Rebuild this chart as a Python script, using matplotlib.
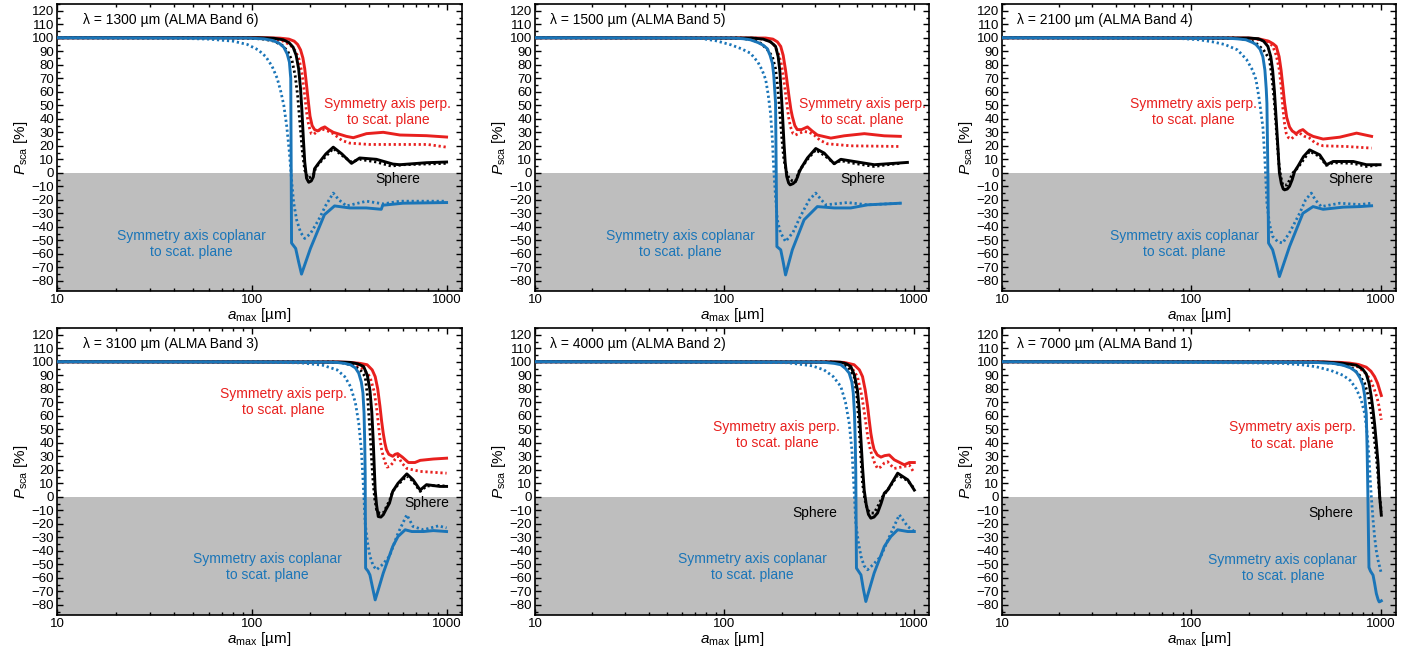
import matplotlib
matplotlib.use('Agg')
import matplotlib.pyplot as plt
from matplotlib.ticker import MultipleLocator, LogLocator, NullFormatter, FixedFormatter, FixedLocator

plt.rcParams['font.family'] = ['Liberation Sans', 'DejaVu Sans']
plt.rcParams['mathtext.fontset'] = 'custom'
plt.rcParams['mathtext.rm'] = 'Liberation Sans'
plt.rcParams['mathtext.it'] = 'Liberation Sans:italic'

RED = '#e8201e'
BLUE = '#1a75b8'
GREY = '#bebebe'

# P_sca [%] versus a_max [um], points as (a_max, P)
# lambda = 1300 um
b6_perp = [(10, 100), (120, 100), (140, 99.7), (155, 99), (165, 97.5), (172, 95), (178, 91), (183, 85),
           (187, 77), (191, 65), (195, 53), (199, 42), (204, 35), (210, 32), (218, 31), (228, 33), (237, 34),
           (248, 32), (262, 30), (306, 27), (332, 26), (388, 29), (473, 30), (576, 28), (789, 27.5),
           (1000, 26.5)]
b6_perp_dot = [(10, 100), (110, 99.8), (130, 99), (145, 97.5), (158, 94.5), (168, 90), (175, 84), (181, 74),
               (186, 60), (191, 45), (196, 35), (202, 29), (208, 28.5), (218, 31), (229, 32.5), (245, 31),
               (262, 29), (290, 24), (318, 22), (400, 21), (600, 21), (800, 21), (1000, 19)]
b6_sph = [(10, 100), (110, 100), (130, 99.6), (145, 98.5), (155, 96.5), (163, 93), (169, 87), (174, 77),
          (178, 62), (181, 45), (184, 25), (187, 8), (191, -4), (196, -7), (202, -6), (207, -3), (210, 3),
          (220, 7), (240, 14), (262, 19), (290, 14), (325, 7), (358, 11), (436, 10), (530, 6.5), (575, 6),
          (789, 7.5), (1000, 8)]
b6_sph_dot = [(10, 100), (95, 99.8), (115, 99), (130, 97.5), (143, 94.5), (153, 90), (161, 83), (167, 72),
              (172, 57), (177, 35), (182, 15), (187, 2), (194, -4), (202, -3), (208, -1), (213, 4), (225, 8),
              (262, 18), (290, 13), (325, 8), (358, 10), (436, 8), (520, 5), (600, 6), (1000, 7)]
b6_copl = [(10, 100), (95, 99.8), (115, 99.2), (128, 98), (138, 96), (146, 93), (152, 88), (156, 82),
           (158.5, 70), (160, -52), (168, -56), (174, -66), (180, -75), (200, -56), (236, -31), (266, -24.5),
           (318, -26), (387, -26), (462, -27), (470, -24), (598, -22.5), (1000, -22)]
b6_copl_dot = [(10, 100), (40, 99.7), (60, 99), (80, 97.5), (95, 95), (108, 91), (118, 86), (127, 79),
               (135, 70), (141, 60), (146, 50), (151, 35), (156, 15), (160, -5), (164, -22), (170, -35),
               (178, -44), (187, -48.6), (200, -45), (220, -35), (240, -24), (262, -15), (280, -20),
               (306, -24.5), (388, -21), (473, -23), (576, -21), (1000, -21)]

# lambda = 1500 um
b5_perp = [(10, 100), (165, 99.8), (180, 99), (190, 97), (198, 93.6), (204, 87), (210, 76), (215, 65),
           (219, 56.5), (224, 47), (228, 41.7), (235, 35), (242, 32), (255, 32), (274, 34), (290, 31),
           (309, 28), (364, 25.7), (428, 27.4), (547, 29), (697, 27.4), (847, 27)]
b5_perp_dot = [(10, 100), (150, 99.7), (170, 98), (182, 95), (192, 89), (200, 80), (206, 68), (213, 51.6),
               (218, 41), (223, 34), (230, 29), (237, 28), (250, 29.5), (263, 30.6), (280, 30), (297, 28),
               (320, 24), (349, 21.5), (464, 20), (847, 19.5)]
b5_sph = [(10, 100), (140, 99.8), (160, 99), (175, 97), (186, 93.6), (192, 86), (196, 75), (199, 60),
          (202, 45), (206, 22), (209, 8), (213, -2.7), (218, -7.5), (222, -8.9), (230, -8), (237, -6.4),
          (243, -3), (247, 0), (255, 4), (274, 11), (303, 18), (336, 14.6), (379, 6.7), (411, 10), (483, 8.4),
          (617, 6), (726, 6.7), (923, 7.7)]
b5_sph_dot = [(10, 100), (120, 99.8), (140, 98.5), (155, 96), (168, 91.5), (179, 86), (186, 77), (190, 66),
              (194, 51.6), (199, 32), (203, 18), (206, 9.6), (212, 1), (219, -4), (228, -6), (237, -6.4),
              (247, 1), (274, 10), (303, 17), (336, 13), (379, 7), (411, 9), (483, 7), (617, 4.7),
              (726, 6), (847, 7)]
b5_copl = [(10, 100), (110, 99.8), (125, 99.3), (137, 98.5), (150, 96.5), (160, 94.5), (168, 92), (174, 87),
           (179, 81), (182, 72), (186, 51.6), (189, -54.6), (198, -57), (204, -66), (210, -75.6), (228, -57),
           (263, -34.8), (309, -25), (379, -26), (464, -26), (569, -23.7), (847, -22.5)]
b5_copl_dot = [(10, 100), (60, 99.8), (75, 99.5), (90, 97.8), (108, 94.8), (122, 92), (137, 88.6), (150, 82),
               (158, 76), (165, 69), (170, 58), (175, 44), (179, 24), (182, 2), (186, -18), (190, -34.8),
               (197, -44), (210, -50.9), (230, -44), (252, -32), (280, -20), (303, -15), (320, -19),
               (342, -23.7), (446, -22), (569, -23.7), (847, -22.5)]

# lambda = 2100 um
b4_perp = [(10, 100), (200, 99.8), (230, 99), (255, 97.5), (270, 95.5), (280, 93.6), (290, 86), (297, 76),
           (304, 63), (310, 51.6), (318, 41), (329, 34), (340, 31), (357, 29), (372, 31), (387, 32),
           (410, 29), (438, 27), (495, 25), (606, 26.4), (743, 29.4), (892, 27)]
b4_perp_dot = [(10, 100), (200, 99.6), (230, 98.5), (250, 97.5), (268, 94), (280, 87), (291, 76), (298, 62),
               (304, 46.7), (310, 36), (316, 29.4), (325, 26), (336, 25), (354, 28), (372, 29.4), (395, 27),
               (420, 25.7), (450, 22), (495, 20), (657, 19.5), (892, 18.3)]
b4_sph = [(10, 100), (200, 99.8), (225, 99.3), (240, 97.5), (253, 93.6), (262, 86), (268, 76), (274, 60),
          (280, 39), (286, 18), (291, 0), (298, -8), (305, -12), (310, -12.6), (320, -12), (329, -10),
          (340, -5), (350, 1), (365, 5), (390, 12), (420, 17), (475, 13.3), (515, 6), (559, 8.4), (714, 8.4),
          (838, 6), (989, 6)]
b4_sph_dot = [(10, 100), (170, 99.8), (200, 98.5), (219, 96), (240, 91), (258, 84), (266, 70), (274, 51.6),
              (281, 30), (289, 7), (296, -3), (303, -9), (320, -9), (343, 0), (365, 4), (420, 16), (475, 12),
              (515, 5.5), (559, 7.5), (714, 7), (838, 4.7), (989, 6)]
b4_copl = [(10, 100), (150, 99.8), (175, 99.2), (194, 98.5), (210, 96.5), (219, 95), (230, 91.5), (238, 86),
           (244, 76), (248, 62), (250, 51.6), (253, 0), (255, -52), (268, -57), (280, -67), (291, -76.8),
           (329, -54.6), (387, -30), (438, -25), (495, -27), (632, -25.4), (774, -25), (892, -24.4)]
b4_copl_dot = [(10, 100), (86, 99.5), (110, 98.5), (129, 97), (150, 95), (175, 91), (195, 84), (210, 76),
               (219, 69), (228, 54), (238, 34), (244, 10), (250, -22.5), (258, -38), (268, -47), (285, -51),
               (303, -52), (330, -44), (372, -30), (400, -20), (429, -15), (450, -20), (484, -25),
               (606, -22.5), (774, -23.5), (892, -22.5)]

# lambda = 3100 um
b3_perp = [(10, 100), (280, 99.8), (321, 99.5), (360, 98.8), (391, 97.8), (415, 94), (430, 89), (443, 80),
           (455, 67), (464, 56), (473, 47), (482, 40), (491, 35), (505, 31.5), (529, 30), (545, 31.5),
           (561, 32), (593, 29.4), (637, 25.4), (688, 25.4), (732, 27), (855, 28), (1000, 28.6)]
b3_perp_dot = [(10, 100), (260, 99.8), (300, 99.4), (340, 97.8), (375, 94.5), (404, 89), (425, 78),
               (437, 66), (446, 54.6), (455, 43), (464, 35), (473, 30), (485, 25), (495, 22), (510, 22.5),
               (529, 25), (545, 28), (563, 30), (590, 25), (625, 21), (732, 18.8), (1000, 17.5)]
b3_sph = [(10, 100), (280, 99.8), (321, 99.5), (350, 98.5), (375, 96.5), (392, 90), (404, 79), (413, 63),
          (420, 42), (425, 23), (430, 5), (437, -6), (446, -14.6), (460, -15), (473, -13.3), (490, -9),
          (509, -4.7), (529, 4), (563, 10), (625, 17), (673, 12.6), (732, 5), (789, 9), (924, 7.7),
          (1000, 7.7)]
b3_sph_dot = [(10, 100), (260, 99.8), (300, 99), (340, 96.5), (365, 93), (382, 89), (393, 74), (404, 49.6),
              (412, 28), (420, 10), (428, -2), (437, -9.6), (455, -12.5), (473, -12), (509, -3), (529, 4),
              (563, 9), (625, 15.5), (673, 11.5), (732, 4), (789, 8), (924, 8.5), (1000, 7.7)]
b3_copl = [(10, 100), (220, 99.8), (274, 99.5), (300, 98.8), (321, 97.8), (340, 95.5), (354, 91.6),
           (365, 85), (372, 77), (377, 62), (380, 40), (382, 17.5), (384, -52.8), (395, -55), (404, -57.8),
           (418, -68), (430, -76.3), (450, -67), (473, -56.5), (529, -36.8), (563, -29.4), (613, -24.4),
           (663, -25.7), (762, -25.7), (855, -25), (1000, -25.7)]
b3_copl_dot = [(10, 100), (98, 99.8), (178, 99.2), (230, 97.5), (274, 94), (300, 89), (321, 81.7),
               (340, 70), (354, 54.6), (365, 35), (375, 5), (382, -19.5), (392, -33), (404, -44), (420, -51),
               (437, -54), (470, -50), (509, -44), (563, -27), (625, -13.3), (673, -22), (762, -24.4),
               (908, -21.5), (1000, -23)]

# lambda = 4000 um
b2_perp = [(10, 100), (380, 99.8), (428, 99.5), (483, 97.8), (515, 94), (535, 89), (553, 79), (569, 67),
           (580, 57), (592, 47), (604, 40), (616, 35), (640, 31), (669, 29.4), (700, 30.5), (740, 31),
           (787, 27.4), (889, 23.7), (945, 25.4), (1004, 25.4)]
b2_perp_dot = [(10, 100), (360, 99.8), (428, 99), (470, 95.5), (503, 89), (530, 75), (545, 64), (557, 54.6),
               (572, 43), (590, 34), (604, 30), (620, 25), (642, 21), (665, 22), (697, 25), (726, 26),
               (760, 23), (787, 21), (889, 22.5), (945, 23.5), (1004, 17.5)]
b2_sph = [(10, 100), (380, 99.8), (411, 99.6), (440, 98.5), (464, 96.5), (485, 90), (503, 79), (515, 63),
          (525, 42), (535, 22), (546, 5), (560, -6), (575, -13), (592, -15.8), (615, -15), (642, -12),
          (670, -5), (697, 2.7), (726, 5), (820, 17.5), (927, 12.6), (1004, 5)]
b2_sph_dot = [(10, 100), (360, 99.8), (411, 99), (450, 96), (483, 89), (500, 74), (514, 49.6), (525, 28),
              (535, 10), (550, -2), (569, -9.6), (590, -12), (616, -12), (650, -6), (683, 0.2), (726, 5),
              (820, 16), (927, 12), (1004, 6)]
b2_copl = [(10, 100), (280, 99.8), (335, 99.6), (380, 98.8), (411, 97.8), (435, 95), (455, 91.6), (470, 85),
           (478, 77), (485, 62), (490, 40), (493, 17.5), (497, -52.8), (525, -57.8), (540, -68), (557, -77.5),
           (616, -56.5), (697, -36.8), (755, -29.4), (820, -24.4), (927, -25.7), (1004, -25.7)]
b2_copl_dot = [(10, 100), (95, 99.8), (215, 99.3), (290, 97), (335, 94), (375, 89), (411, 81.7), (435, 70),
               (455, 54.6), (470, 35), (483, 5), (493, -19.5), (508, -33), (525, -44), (545, -51),
               (569, -54), (610, -50), (669, -44), (755, -27), (837, -13.3), (927, -22), (1004, -25.7)]

# lambda = 7000 um
b1_perp = [(10, 100), (455, 99.9), (600, 99.6), (683, 99), (760, 98), (836, 96), (885, 93), (925, 89),
           (960, 84), (984, 79), (1004, 75)]
b1_perp_dot = [(10, 100), (400, 99.9), (550, 99.5), (683, 98.5), (760, 96), (836, 91), (885, 86), (925, 79),
               (955, 73), (978, 66.7), (1004, 57)]
b1_sph = [(10, 100), (500, 99.8), (620, 99), (740, 97.5), (800, 94.5), (836, 91), (865, 84), (889, 74),
          (908, 64), (925, 54), (945, 40), (965, 24.7), (984, 0), (1004, -13.6)]
b1_sph_dot = [(10, 100), (450, 99.8), (557, 99), (640, 97.5), (711, 95), (770, 90), (820, 84), (860, 74),
              (889, 61.7), (915, 47), (945, 29.6), (965, 15), (984, 0), (1004, -11)]
b1_copl = [(10, 100), (300, 99.8), (455, 99.5), (560, 98.8), (630, 97.5), (690, 95.5), (740, 92.6),
           (775, 88), (803, 82.7), (820, 75), (830, 66), (836, 61.7), (845, 35), (853, 0), (860, -35),
           (864, -52.3), (880, -55), (908, -58), (925, -64), (945, -71.6), (965, -76), (978, -77.8),
           (990, -77.5), (1004, -77)]
b1_copl_dot = [(10, 100), (90, 99.5), (200, 99.2), (303, 98.8), (380, 97.8), (455, 96.3), (545, 93.5),
               (630, 90), (690, 86), (740, 80), (785, 72), (820, 61.7), (845, 47), (864, 29.6), (878, 12),
               (889, 0), (908, -17), (925, -29.6), (945, -40), (965, -47), (985, -52), (1004, -56.8)]

titles = ['λ = 1300 µm (ALMA Band 6)', 'λ = 1500 µm (ALMA Band 5)', 'λ = 2100 µm (ALMA Band 4)',
          'λ = 3100 µm (ALMA Band 3)', 'λ = 4000 µm (ALMA Band 2)', 'λ = 7000 µm (ALMA Band 1)']
curves = [
    (b6_perp, b6_perp_dot, b6_sph, b6_sph_dot, b6_copl, b6_copl_dot),
    (b5_perp, b5_perp_dot, b5_sph, b5_sph_dot, b5_copl, b5_copl_dot),
    (b4_perp, b4_perp_dot, b4_sph, b4_sph_dot, b4_copl, b4_copl_dot),
    (b3_perp, b3_perp_dot, b3_sph, b3_sph_dot, b3_copl, b3_copl_dot),
    (b2_perp, b2_perp_dot, b2_sph, b2_sph_dot, b2_copl, b2_copl_dot),
    (b1_perp, b1_perp_dot, b1_sph, b1_sph_dot, b1_copl, b1_copl_dot),
]

# axes boxes in pixels: left, right, top, bottom
W, H = 1421, 652
boxes = [(57, 462, 4, 291), (535, 929, 4, 291), (1002, 1396, 4, 291),
         (57, 462, 328, 615), (535, 929, 328, 615), (1002, 1396, 328, 615)]
# label positions in axes fraction: title x, perp (x, y), sphere (x, y), coplanar (x, y)
label_pos = [
    (0.064, (0.817, 0.624), (0.842, 0.390), (0.331, 0.164)),
    (0.038, (0.830, 0.624), (0.832, 0.390), (0.368, 0.164)),
    (0.038, (0.485, 0.624), (0.886, 0.390), (0.462, 0.164)),
    (0.064, (0.560, 0.742), (0.914, 0.390), (0.519, 0.167)),
    (0.038, (0.614, 0.627), (0.711, 0.355), (0.551, 0.167)),
    (0.038, (0.737, 0.625), (0.835, 0.355), (0.713, 0.164)),
]

fig = plt.figure(figsize=(W / 100, H / 100), dpi=100)

for k in range(6):
    l, r, t, b = boxes[k]
    ax = fig.add_axes([l / W, 1 - b / H, (r - l) / W, (b - t) / H])
    ax.axhspan(-100, 0, color=GREY, lw=0, zorder=0)

    perp, perp_dot, sph, sph_dot, copl, copl_dot = curves[k]
    for pts, col, dotted in [(perp_dot, RED, True), (perp, RED, False),
                             (sph_dot, 'black', True), (sph, 'black', False),
                             (copl_dot, BLUE, True), (copl, BLUE, False)]:
        a, p = zip(*pts)
        if dotted:
            ax.plot(a, p, color=col, lw=2.0, ls=(0, (0.8, 1.0)), zorder=3)
        else:
            ax.plot(a, p, color=col, lw=2.1, solid_joinstyle='round', zorder=3)

    ax.set_xscale('log')
    ax.set_xlim(10, 1200)
    ax.set_ylim(-87.5, 125)
    ax.xaxis.set_major_locator(FixedLocator([10, 100, 1000]))
    ax.xaxis.set_major_formatter(FixedFormatter(['10', '100', '1000']))
    ax.xaxis.set_minor_locator(LogLocator(base=10, subs=range(2, 10)))
    ax.xaxis.set_minor_formatter(NullFormatter())
    ax.yaxis.set_minor_locator(MultipleLocator(5))
    ax.set_yticks(range(-80, 121, 10))
    ax.set_yticklabels([str(v).replace('-', '\u2212') for v in range(-80, 121, 10)])
    ax.tick_params(which='both', direction='in', top=True, right=True, labelsize=9.5, width=1.0, pad=2)
    ax.tick_params(which='major', length=4)
    ax.tick_params(which='minor', length=2.2)
    for s in ax.spines.values():
        s.set_linewidth(1.2)

    ax.set_xlabel(r'$a_{\rm max}$ [µm]', fontsize=11, labelpad=0)
    ax.set_ylabel(r'$P_{\rm sca}$ [%]', fontsize=11, labelpad=1)

    tx, perp_xy, sph_xy, copl_xy = label_pos[k]
    ax.text(tx, 0.944, titles[k], transform=ax.transAxes, fontsize=10, ha='left', va='center')
    ax.text(perp_xy[0], perp_xy[1], 'Symmetry axis perp.\nto scat. plane', transform=ax.transAxes,
            color=RED, fontsize=10, ha='center', va='center', linespacing=1.25)
    ax.text(sph_xy[0], sph_xy[1], 'Sphere', transform=ax.transAxes, fontsize=10, ha='center', va='center')
    ax.text(copl_xy[0], copl_xy[1], 'Symmetry axis coplanar\nto scat. plane', transform=ax.transAxes,
            color=BLUE, fontsize=10, ha='center', va='center', linespacing=1.25)

fig.savefig('out.png', dpi=100)
